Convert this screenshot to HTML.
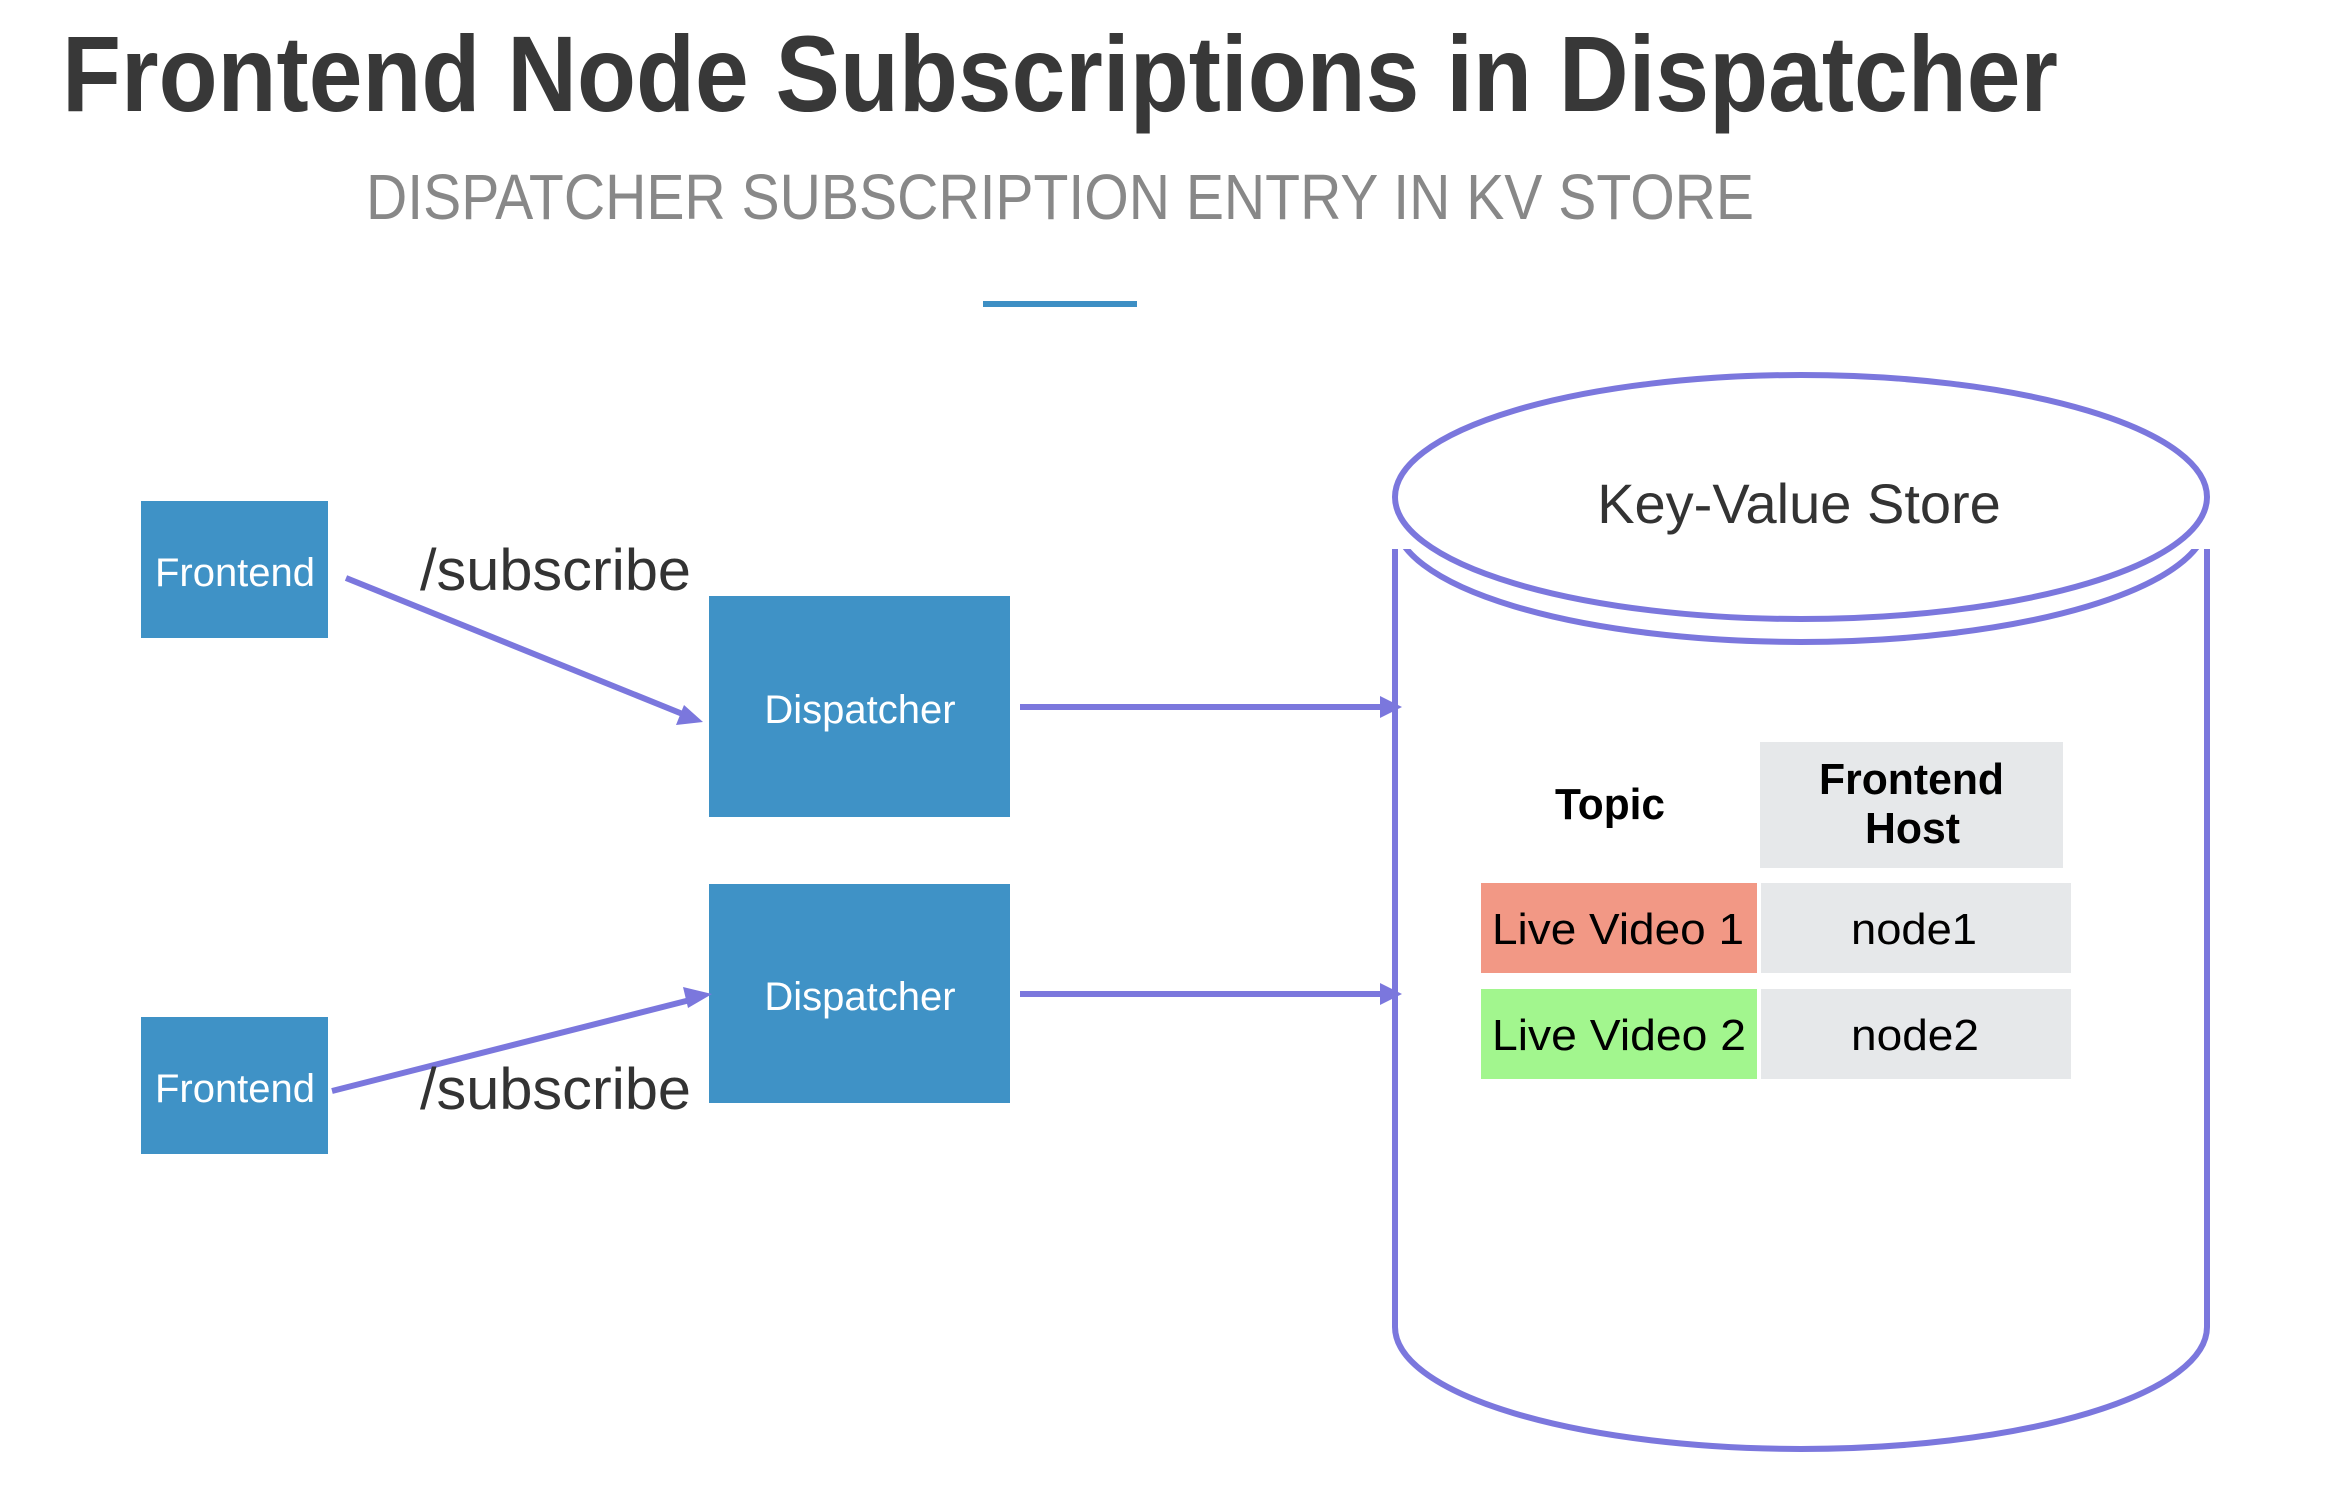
<!DOCTYPE html>
<html><head><meta charset="utf-8"><style>html,body{margin:0;padding:0;background:#fff}svg{display:block}</style></head>
<body>
<svg width="2326" height="1508" viewBox="0 0 2326 1508" xmlns="http://www.w3.org/2000/svg">
<defs>
<clipPath id="c"><rect x="0" y="549" width="2326" height="200"/></clipPath>
</defs>
<text x="62" y="111" font-family="Liberation Sans, sans-serif" font-weight="bold" font-size="108" fill="#383838" textLength="1996" lengthAdjust="spacingAndGlyphs">Frontend Node Subscriptions in Dispatcher</text>
<text x="366" y="219" font-family="Liberation Sans, sans-serif" font-size="64" fill="#888" textLength="1388" lengthAdjust="spacingAndGlyphs">DISPATCHER SUBSCRIPTION ENTRY IN KV STORE</text>
<rect x="983" y="301" width="154" height="6" fill="#3d8fc4"/>

<g fill="#3f92c6">
<rect x="141" y="501" width="187" height="137"/>
<rect x="141" y="1017" width="187" height="137"/>
<rect x="709" y="596" width="301" height="221"/>
<rect x="709" y="884" width="301" height="219"/>
</g>
<g font-family="Liberation Sans, sans-serif" font-size="40" fill="#fff" text-anchor="middle">
<text x="235" y="586">Frontend</text>
<text x="235" y="1102">Frontend</text>
<text x="860" y="723">Dispatcher</text>
<text x="860" y="1010">Dispatcher</text>
</g>

<g stroke="#7b77dd" stroke-width="6" fill="none">
<line x1="346" y1="578" x2="690" y2="717"/>
<line x1="332" y1="1091" x2="698" y2="998"/>
<line x1="1020" y1="707" x2="1385" y2="707"/>
<line x1="1020" y1="994" x2="1385" y2="994"/>
</g>
<g fill="#7b77dd">
<polygon points="703,722 676,725 684,705"/>
<polygon points="712,994 688,1008 683,987"/>
<polygon points="1402,707 1380,696 1380,718"/>
<polygon points="1402,994 1380,983 1380,1005"/>
</g>
<g font-family="Liberation Sans, sans-serif" font-size="58" fill="#333">
<text x="420" y="590" textLength="271" lengthAdjust="spacingAndGlyphs">/subscribe</text>
<text x="420" y="1109" textLength="271" lengthAdjust="spacingAndGlyphs">/subscribe</text>
</g>

<g stroke="#7b77dd" stroke-width="6" fill="none">
<ellipse cx="1801" cy="497" rx="406" ry="122"/>
<path d="M1395 549 L1395 1327 A406 122 0 0 0 2207 1327 L2207 549"/>
<path d="M1395 520 A406 122 0 0 0 2207 520" clip-path="url(#c)"/>
</g>
<text x="1799" y="523" font-family="Liberation Sans, sans-serif" font-size="56" fill="#333" text-anchor="middle">Key-Value Store</text>

<rect x="1760" y="742" width="303" height="126" fill="#e6e8ea"/>
<rect x="1481" y="883" width="276" height="90" fill="#f29885"/>
<rect x="1761" y="883" width="310" height="90" fill="#e6e8ea"/>
<rect x="1481" y="989" width="276" height="90" fill="#a2f68e"/>
<rect x="1761" y="989" width="310" height="90" fill="#e6e8ea"/>
<g font-family="Liberation Sans, sans-serif" font-size="44" fill="#000">
<text x="1555" y="819" font-weight="bold" textLength="110" lengthAdjust="spacingAndGlyphs">Topic</text>
<text x="1819" y="794" font-weight="bold" textLength="185" lengthAdjust="spacingAndGlyphs">Frontend</text>
<text x="1865" y="843" font-weight="bold" textLength="95" lengthAdjust="spacingAndGlyphs">Host</text>
<text x="1492" y="944" textLength="252" lengthAdjust="spacingAndGlyphs">Live Video 1</text>
<text x="1851" y="944" textLength="126" lengthAdjust="spacingAndGlyphs">node1</text>
<text x="1492" y="1050" textLength="254" lengthAdjust="spacingAndGlyphs">Live Video 2</text>
<text x="1851" y="1050" textLength="128" lengthAdjust="spacingAndGlyphs">node2</text>
</g>
</svg>
</body></html>
